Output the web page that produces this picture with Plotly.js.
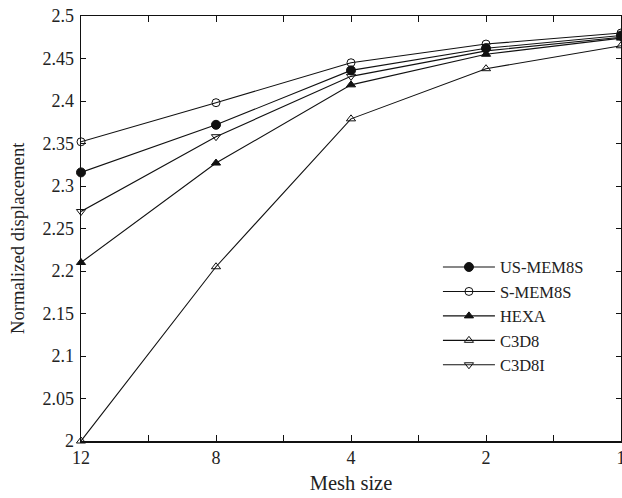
<!DOCTYPE html>
<html>
<head>
<meta charset="utf-8">
<script src="https://cdn.plot.ly/plotly-3.0.1.min.js"></script>
<style>
  html, body { margin: 0; padding: 0; background: #fff; }
  #chart { width: 622px; height: 498px; }
</style>
</head>
<body>
<div id="chart"></div>
<script>
// Mesh size categories (x axis, equally spaced)
const meshSizes = ['12', '8', '4', '2', '1'];

// Normalized displacement per element type
const usMem8s = [2.316, 2.372, 2.436, 2.462, 2.477];
const sMem8s  = [2.352, 2.398, 2.445, 2.467, 2.480];
const hexa    = [2.210, 2.327, 2.419, 2.455, 2.474];
const c3d8    = [2.000, 2.205, 2.379, 2.438, 2.465];
const c3d8i   = [2.270, 2.358, 2.429, 2.459, 2.475];

// Y tick labels
const yTickVals = [2, 2.05, 2.1, 2.15, 2.2, 2.25, 2.3, 2.35, 2.4, 2.45, 2.5];
const yTickText = ['2', '2.05', '2.1', '2.15', '2.2', '2.25', '2.3', '2.35', '2.4', '2.45', '2.5'];

const xIdx = meshSizes.map((_, i) => i);
const FONT = 'Liberation Serif, Times New Roman, serif';

function series(name, y, symbol, size) {
  return {
    x: xIdx, y: y, name: name, type: 'scatter', mode: 'lines+markers',
    cliponaxis: false,
    line: { color: '#111', width: 1.1 },
    marker: { symbol: symbol, size: size, color: '#111', line: { color: '#111', width: 1 } }
  };
}

const data = [
  series('US-MEM8S', usMem8s, 'circle', 9),
  series('S-MEM8S', sMem8s, 'circle-open', 8),
  series('HEXA', hexa, 'triangle-up', 8),
  series('C3D8', c3d8, 'triangle-up-open', 8),
  series('C3D8I', c3d8i, 'triangle-down-open', 8)
];

const layout = {
  width: 622, height: 498,
  margin: { l: 81, r: 1, t: 16, b: 57 },
  paper_bgcolor: '#fff', plot_bgcolor: '#fff',
  font: { family: FONT, size: 17, color: '#222' },
  showlegend: true,
  legend: {
    x: 0.661, y: 0.45, xanchor: 'left', yanchor: 'top',
    bgcolor: 'rgba(0,0,0,0)', borderwidth: 0,
    font: { family: FONT, size: 16.5, color: '#222' },
    itemwidth: 52, tracegroupgap: 0
  },
  xaxis: {
    range: [0, 4], showgrid: false, zeroline: false,
    tickmode: 'array', tickvals: xIdx, ticktext: meshSizes,
    ticklabeloverflow: 'allow',
    ticks: 'inside', ticklen: 6, tickwidth: 1, tickcolor: '#111',
    showline: true, linecolor: '#111', linewidth: 1.5, mirror: 'ticks',
    minor: { tickvals: [0.5, 1.5, 2.5, 3.5], ticks: 'inside', ticklen: 6, tickwidth: 1, tickcolor: '#111', showgrid: false },
    tickfont: { family: FONT, size: 18, color: '#222' },
    title: { text: 'Mesh size', font: { family: FONT, size: 20.5, color: '#222' }, standoff: 8 }
  },
  yaxis: {
    range: [2, 2.5], showgrid: false, zeroline: false,
    tickmode: 'array', tickvals: yTickVals, ticktext: yTickText,
    ticks: 'inside', ticklen: 5, tickwidth: 1, tickcolor: '#111',
    ticklabelstandoff: 2,
    showline: true, linecolor: '#111', linewidth: 1.5, mirror: 'ticks',
    tickfont: { family: FONT, size: 18, color: '#222' }
  },
  annotations: [{
    text: 'Normalized displacement', textangle: -90, showarrow: false,
    xref: 'paper', yref: 'paper', x: -0.1185, y: 0.4776,
    xanchor: 'center', yanchor: 'middle',
    font: { family: FONT, size: 18.7, color: '#222' }
  }]
};

Plotly.newPlot('chart', data, layout, { displayModeBar: false, staticPlot: true });
</script>
</body>
</html>
